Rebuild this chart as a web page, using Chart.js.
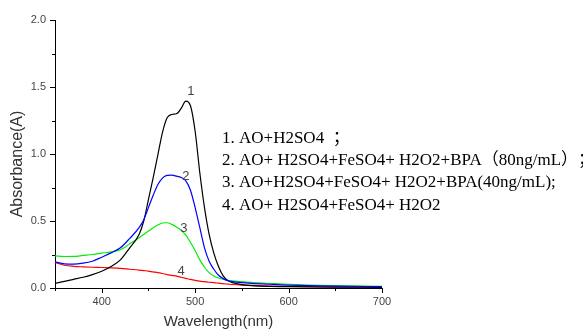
<!DOCTYPE html>
<html><head><meta charset="utf-8">
<script src="https://cdn.jsdelivr.net/npm/chart.js@4/dist/chart.umd.min.js"></script>
<style>html,body{margin:0;padding:0;background:#fff}#wrap{width:583px;height:332px}</style>
</head><body><div id="wrap"><canvas id="c" width="583" height="332"></canvas></div>
<script>
const wavelengths = [350,360,370,380,390,400,410,420,430,440,445,450,455,460,465,470,475,480,485,490,495,500,505,510,515,520,525,530,535,540,550,560,580,600,650,700];
const curve1 = [0.035,0.05,0.065,0.08,0.10,0.125,0.16,0.21,0.30,0.40,0.50,0.66,0.82,0.99,1.16,1.27,1.295,1.30,1.34,1.395,1.36,1.17,0.86,0.60,0.40,0.26,0.16,0.09,0.055,0.04,0.025,0.018,0.012,0.01,0.007,0.005];
const curve2 = [0.195,0.18,0.178,0.185,0.20,0.23,0.262,0.30,0.37,0.45,0.51,0.60,0.69,0.77,0.82,0.84,0.842,0.835,0.825,0.80,0.73,0.60,0.45,0.30,0.20,0.14,0.095,0.07,0.055,0.048,0.04,0.035,0.028,0.022,0.014,0.01];
const curve3 = [0.24,0.235,0.236,0.243,0.25,0.26,0.27,0.285,0.33,0.375,0.40,0.425,0.45,0.47,0.485,0.487,0.475,0.455,0.43,0.395,0.34,0.28,0.21,0.155,0.115,0.09,0.075,0.065,0.058,0.053,0.047,0.042,0.035,0.028,0.018,0.012];
const curve4 = [0.19,0.17,0.162,0.158,0.155,0.153,0.15,0.146,0.14,0.134,0.13,0.126,0.12,0.115,0.108,0.10,0.094,0.088,0.08,0.072,0.064,0.057,0.051,0.047,0.043,0.04,0.036,0.032,0.029,0.026,0.022,0.019,0.015,0.012,0.008,0.005];
const seriesNames = ['1','2','3','4'];
const seriesColors = ['#000000','#0000ff','#00f000','#ff0000'];
const labelWavelength = [495.5,490,488,485];
const labelAbsorbance = [1.47,0.836,0.448,0.127];
const xTickLabels = ['400','500','600','700'];
const yTickLabels = ['0.0','0.5','1.0','1.5','2.0'];
const legendLines = [
  '1. AO+H2SO4  ；',
  '2. AO+ H2SO4+FeSO4+ H2O2+BPA（80ng/mL）；',
  '3. AO+H2SO4+FeSO4+ H2O2+BPA(40ng/mL);',
  '4. AO+ H2SO4+FeSO4+ H2O2'
];
const xTitle = 'Wavelength(nm)';
const yTitle = 'Absorbance(A)';

const allCurves = [curve1, curve2, curve3, curve4];
const datasets = allCurves.map((c, i) => ({
  label: seriesNames[i],
  data: wavelengths.map((w, k) => ({x: w, y: c[k]})),
  borderColor: seriesColors[i],
  borderWidth: 1.2,
  pointRadius: 0,
  fill: false,
  cubicInterpolationMode: 'monotone',
  order: [1,0,2,3][i]
}));

const annot = {
  id: 'annot',
  afterDraw(chart) {
    const ctx = chart.ctx, xs = chart.scales.x, ys = chart.scales.y;
    ctx.save();
    ctx.strokeStyle = '#000'; ctx.lineWidth = 1;
    for (let v = 350; v <= 700; v += 50) {
      const px = Math.round(xs.getPixelForValue(v)) + 0.5;
      const len = (v % 100 === 0) ? 5 : 3;
      ctx.beginPath(); ctx.moveTo(px, ys.bottom); ctx.lineTo(px, ys.bottom + len); ctx.stroke();
    }
    for (let v = 0; v <= 2.0001; v += 0.25) {
      const py = Math.round(ys.getPixelForValue(v)) + 0.5;
      const major = Math.abs(v * 2 - Math.round(v * 2)) < 1e-6;
      const len = major ? 5 : 3;
      ctx.beginPath(); ctx.moveTo(xs.left, py); ctx.lineTo(xs.left - len, py); ctx.stroke();
    }
    ctx.fillStyle = '#444';
    ctx.font = '13px "Liberation Sans", Arial, sans-serif';
    ctx.textAlign = 'center'; ctx.textBaseline = 'middle';
    seriesNames.forEach((n, i) => {
      ctx.fillText(n, xs.getPixelForValue(labelWavelength[i]), ys.getPixelForValue(labelAbsorbance[i]));
    });
    ctx.save();
    ctx.translate(18, 164);
    ctx.rotate(-Math.PI / 2);
    ctx.font = '16px "Liberation Sans", Arial, sans-serif';
    ctx.fillStyle = '#333';
    ctx.fillText(yTitle, 0, 0);
    ctx.restore();
    ctx.fillStyle = '#000';
    ctx.font = '17px "Liberation Serif", "Times New Roman", "Noto Sans CJK SC", serif';
    ctx.textAlign = 'left'; ctx.textBaseline = 'alphabetic';
    legendLines.forEach((t, i) => {
      ctx.fillText(t, xs.left + 167, 143 + i * 22.2);
    });
    ctx.restore();
  }
};

new Chart(document.getElementById('c'), {
  type: 'line',
  data: { datasets },
  options: {
    responsive: false,
    animation: false,
    devicePixelRatio: 1,
    layout: { padding: { top: 20, right: 201, left: 0, bottom: 0 } },
    plugins: { legend: { display: false }, tooltip: { enabled: false } },
    scales: {
      x: {
        type: 'linear', min: 350, max: 700,
        grid: { display: false, drawTicks: false },
        border: { display: true, color: '#000', width: 1 },
        ticks: {
          stepSize: 50, autoSkip: false, maxRotation: 0, padding: 7,
          color: '#444', font: { size: 11, family: '"Liberation Sans", Arial, sans-serif' },
          callback: (v) => { const i = [400,500,600,700].indexOf(v); return i >= 0 ? xTickLabels[i] : ''; }
        },
        title: { display: true, text: xTitle, color: '#333', padding: { top: 0, bottom: 1 },
          font: { size: 15, family: '"Liberation Sans", Arial, sans-serif' } },
        afterFit: (s) => { s.height = 44; }
      },
      y: {
        type: 'linear', min: 0, max: 2.0,
        grid: { display: false, drawTicks: false },
        border: { display: true, color: '#000', width: 1 },
        ticks: {
          stepSize: 0.5, padding: 9,
          color: '#444', font: { size: 11, family: '"Liberation Sans", Arial, sans-serif' },
          callback: (v) => { const i = [0,0.5,1,1.5,2].findIndex(t => Math.abs(t - v) < 1e-6); return i >= 0 ? yTickLabels[i] : ''; }
        },
        afterFit: (s) => { s.width = 55; }
      }
    }
  },
  plugins: [annot]
});
</script>
</body></html>
